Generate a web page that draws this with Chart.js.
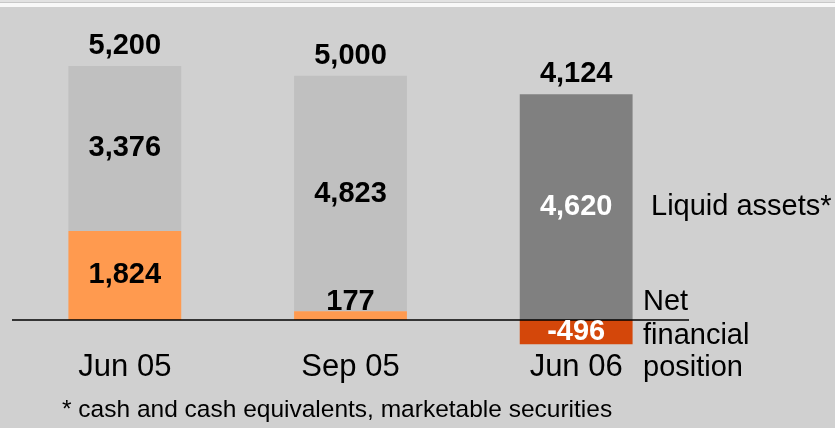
<!DOCTYPE html>
<html>
<head>
<meta charset="utf-8">
<script src="https://cdn.jsdelivr.net/npm/chart.js@4.4.1/dist/chart.umd.min.js"></script>
<style>
  html, body { margin: 0; padding: 0; background: #d0d0d0; }
  #wrap { position: relative; width: 835px; height: 428px; overflow: hidden; }
  #topband { position: absolute; left: 0; top: 0; width: 835px; height: 7px;
    background: linear-gradient(#e2e2e2 0 2px, #c8c8c8 2px 3px, #f8f8f8 3px 7px); }
  canvas { position: absolute; left: 0; top: 0; }
</style>
</head>
<body>
<div id="wrap">
  <div id="topband"></div>
  <canvas id="chart" width="835" height="428"></canvas>
</div>
<script>
// Datos del gráfico
const categories = ['Jun 05', 'Sep 05', 'Jun 06'];
const netFinancial = [1824, 177, -496];
const liquidAssets = [3376, 4823, 4620];
const totals = [5200, 5000, 4124];

const netColors = ['#ff9a4f', '#ff9a4f', '#d4470a'];
const liquidColors = ['#c0c0c0', '#c0c0c0', '#808080'];

const FONT = "'Liberation Sans', Arial, sans-serif";

function fmt(v) {
    return v.toLocaleString('en-US');
}

// Plugin para etiquetas y línea base
const labelsPlugin = {
    id: 'labels',
    afterDatasetsDraw(chart) {
        const ctx = chart.ctx;
        const x = chart.scales.x;
        const y = chart.scales.y;
        const y0 = y.getPixelForValue(0);
        const area = chart.chartArea;

        ctx.save();
        // línea base
        ctx.strokeStyle = '#000';
        ctx.lineWidth = 1.5;
        ctx.beginPath();
        ctx.moveTo(area.left, y0);
        ctx.lineTo(area.right, y0);
        ctx.stroke();

        ctx.textAlign = 'center';
        ctx.textBaseline = 'middle';

        const metaNet = chart.getDatasetMeta(0);
        const metaLiq = chart.getDatasetMeta(1);

        categories.forEach((cat, i) => {
            const cx = x.getPixelForValue(i);
            const barNet = metaNet.data[i];
            const barLiq = metaLiq.data[i];

            // valores dentro de las barras
            ctx.font = 'bold 29px ' + FONT;
            const dark = i === 2;
            ctx.fillStyle = dark ? '#fff' : '#000';
            ctx.fillText(fmt(liquidAssets[i]), cx, (barLiq.y + barLiq.base) / 2);

            const netH = Math.abs(barNet.base - barNet.y);
            let ny = (barNet.y + barNet.base) / 2;
            if (netFinancial[i] > 0 && netH < 30) ny = barNet.y - 9;
            ctx.fillText(fmt(netFinancial[i]), cx, ny);

            // total encima
            ctx.fillStyle = '#000';
            const top = Math.min(barLiq.y, barNet.y);
            ctx.fillText(fmt(totals[i]), cx, top - 20);

            // categoría
            ctx.font = '31px ' + FONT;
            ctx.fillText(cat, cx, y0 + 47);
        });

        // leyendas a la derecha
        ctx.textAlign = 'left';
        ctx.font = '29px ' + FONT;
        ctx.fillText('Liquid assets*', 651, y.getPixelForValue(liquidAssets[2] / 2));
        ctx.fillText('Net', 643, y0 - 18);
        ctx.fillText('financial', 643, y0 + 16);
        ctx.fillText('position', 643, y0 + 48);

        ctx.font = '24.5px ' + FONT;
        ctx.fillText('* cash and cash equivalents, marketable securities', 62, 410);
        ctx.restore();
    }
};

new Chart(document.getElementById('chart'), {
    type: 'bar',
    data: {
        labels: categories,
        datasets: [
            {
                label: 'Net financial position',
                data: netFinancial,
                backgroundColor: netColors,
                borderWidth: 0
            },
            {
                label: 'Liquid assets*',
                data: liquidAssets,
                backgroundColor: liquidColors,
                borderWidth: 0
            }
        ]
    },
    options: {
        responsive: false,
        animation: false,
        events: [],
        layout: { padding: { left: 12, right: 146, top: 10, bottom: 28 } },
        plugins: {
            legend: { display: false },
            tooltip: { enabled: false }
        },
        scales: {
            x: {
                stacked: true,
                display: false
            },
            y: {
                stacked: true,
                display: false,
                min: -1638,
                max: 6346
            }
        },
        datasets: {
            bar: { categoryPercentage: 1, barPercentage: 0.5 }
        }
    },
    plugins: [labelsPlugin]
});
</script>
</body>
</html>
